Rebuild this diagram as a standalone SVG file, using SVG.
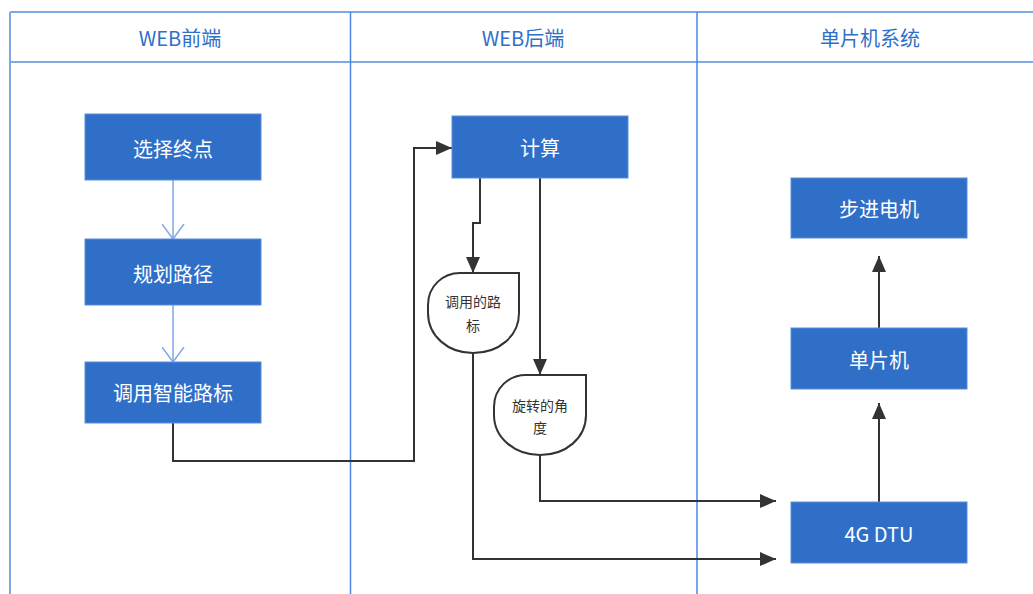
<svg xmlns="http://www.w3.org/2000/svg" width="1033" height="594" viewBox="0 0 1033 594">
<style>
.hdr{font-family:"Microsoft YaHei","Noto Sans CJK SC","Liberation Sans",sans-serif;font-size:20px;fill:#2f6fc8;text-anchor:middle}
.box{fill:#2f6fc8;stroke:#5b8fdb;stroke-width:1}
.bt{font-family:"Noto Sans CJK SC","Liberation Sans",sans-serif;font-size:20px;fill:#ffffff;text-anchor:middle}
.st{font-family:"Noto Sans CJK SC","Liberation Sans",sans-serif;font-size:14px;fill:#333333;text-anchor:middle}
.shape{fill:#ffffff;stroke:#333333;stroke-width:2}
.grid{stroke:#7fa8e6;stroke-width:2;fill:none}
.div{stroke:#4a86e8;stroke-width:1.5;fill:none}
.blue{stroke:#7fa8e6;stroke-width:1.5;fill:none}
.dark{stroke:#333333;stroke-width:2;fill:none}
</style>
<defs>
<marker id="open" markerWidth="24" markerHeight="18" refX="11" refY="15" orient="0" markerUnits="userSpaceOnUse">
<path d="M0,0 L11,15 L22,0" fill="none" stroke="#7fa8e6" stroke-width="1.5"/>
</marker>
<marker id="fill" markerWidth="18" markerHeight="14" refX="16" refY="7" orient="auto" markerUnits="userSpaceOnUse">
<path d="M0,0 L16,7 L0,14 Z" fill="#333333"/>
</marker>
</defs>
<rect width="1033" height="594" fill="#ffffff"/>
<g id="lanes">
<line class="grid" x1="10" y1="12" x2="1033" y2="12"/>
<line class="grid" x1="10" y1="62" x2="1033" y2="62"/>
<line class="grid" x1="10" y1="12" x2="10" y2="594"/>
<line class="div" x1="350.5" y1="12" x2="350.5" y2="594"/>
<line class="div" x1="697" y1="12" x2="697" y2="594"/>
<text class="hdr" x="180" y="46">WEB前端</text>
<text class="hdr" x="523" y="46">WEB后端</text>
<text class="hdr" x="870" y="46">单片机系统</text>
</g>
<g id="connectors">
<line class="blue" x1="173" y1="180" x2="173" y2="239" marker-end="url(#open)"/>
<line class="blue" x1="173" y1="305" x2="173" y2="362" marker-end="url(#open)"/>
<polyline class="dark" points="173,423 173,461 414,461 414,148 452,148" marker-end="url(#fill)"/>
<polyline class="dark" points="480,178 480,223 473,223 473,273" marker-end="url(#fill)"/>
<polyline class="dark" points="540,178 540,375" marker-end="url(#fill)"/>
<polyline class="dark" points="540,455 540,501 776,501" marker-end="url(#fill)"/>
<polyline class="dark" points="473,353 473,559 776,559" marker-end="url(#fill)"/>
<line class="dark" x1="879" y1="502" x2="879" y2="403" marker-end="url(#fill)"/>
<line class="dark" x1="879" y1="328" x2="879" y2="256" marker-end="url(#fill)"/>
</g>
<g id="n1"><rect class="box" x="85" y="114" width="176" height="66"/><text class="bt" x="173" y="157">选择终点</text></g>
<g id="n2"><rect class="box" x="85" y="239" width="176" height="66"/><text class="bt" x="173" y="282">规划路径</text></g>
<g id="n3"><rect class="box" x="85" y="362" width="176" height="61"/><text class="bt" x="173" y="401">调用智能路标</text></g>
<g id="n4"><rect class="box" x="452" y="116" width="176" height="62"/><text class="bt" x="540" y="156">计算</text></g>
<g id="n5"><path class="shape" d="M519,273 V313 C519,336 499,353 473,353 C448,353 428,336 428,313 V305 C428,286 443,273 460,273 Z"/><text class="st" x="473" y="307">调用的路</text><text class="st" x="473" y="331">标</text></g>
<g id="n6"><path class="shape" d="M586,375 V415 C586,438 566,455 540,455 C515,455 494,438 494,415 V407 C494,388 509,375 526,375 Z"/><text class="st" x="540" y="411">旋转的角</text><text class="st" x="540" y="433">度</text></g>
<g id="n7"><rect class="box" x="791" y="178" width="176" height="60"/><text class="bt" x="879" y="217">步进电机</text></g>
<g id="n8"><rect class="box" x="791" y="328" width="176" height="61"/><text class="bt" x="879" y="368">单片机</text></g>
<g id="n9"><rect class="box" x="791" y="502" width="176" height="61"/><text class="bt" x="879" y="542">4G DTU</text></g>
</svg>
